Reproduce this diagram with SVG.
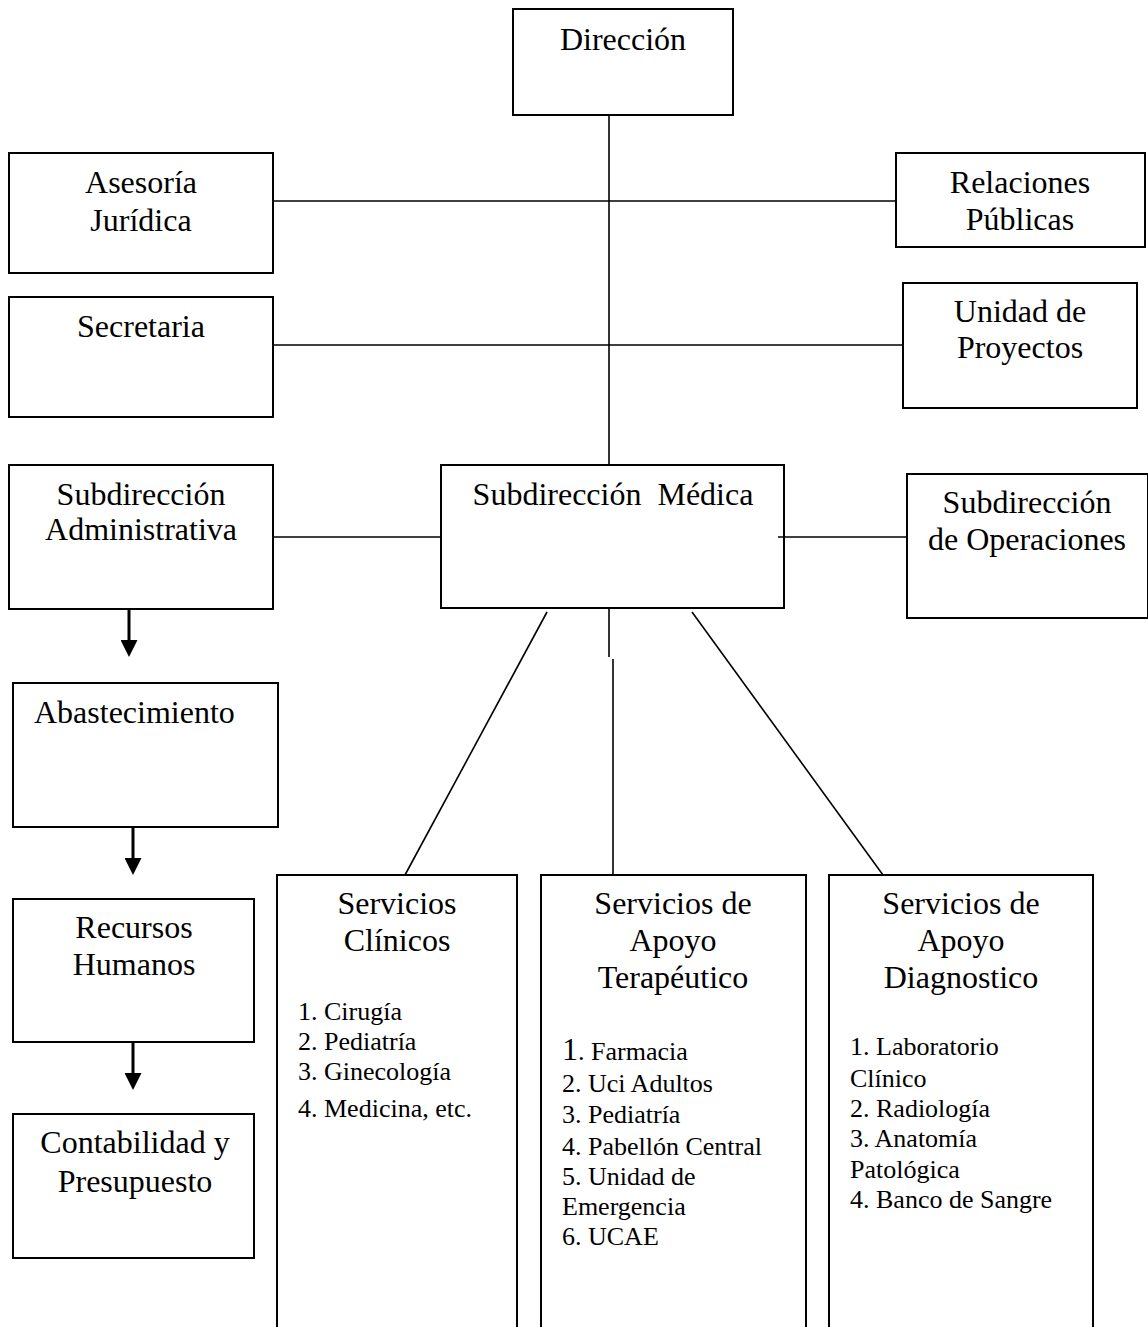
<svg xmlns="http://www.w3.org/2000/svg" width="1148" height="1327" viewBox="0 0 1148 1327">
<style>
  .box { fill: #fff; stroke: #000; stroke-width: 2; }
  .t { font-family: "Liberation Serif", "Times New Roman", serif; font-size: 32px; fill: #000; text-anchor: middle; }
  .l { font-family: "Liberation Serif", "Times New Roman", serif; font-size: 26px; fill: #000; }
  .c { stroke: #000; stroke-width: 1.6; fill: none; }
  .a { stroke: #000; stroke-width: 3; fill: none; }
</style>
<defs>
  <marker id="ah" markerUnits="userSpaceOnUse" markerWidth="17" markerHeight="17" refX="0" refY="8.5" orient="auto">
    <path d="M0,0 L17,8.5 L0,17 z" fill="#000"/>
  </marker>
</defs>
<rect width="1148" height="1327" fill="#fff"/>
<g id="direccion">
  <rect class="box" x="513" y="9" width="220" height="106"/>
  <text class="t" x="623" y="50">Dirección</text>
</g>
<g id="asesoria">
  <rect class="box" x="9" y="153" width="264" height="120"/>
  <text class="t" x="141" y="193">Asesoría</text>
  <text class="t" x="141" y="231">Jurídica</text>
</g>
<g id="relaciones">
  <rect class="box" x="896" y="153" width="249" height="94"/>
  <text class="t" x="1020" y="193">Relaciones</text>
  <text class="t" x="1020" y="230">Públicas</text>
</g>
<g id="secretaria">
  <rect class="box" x="9" y="297" width="264" height="120"/>
  <text class="t" x="141" y="337">Secretaria</text>
</g>
<g id="proyectos">
  <rect class="box" x="903" y="283" width="234" height="125"/>
  <text class="t" x="1020" y="322">Unidad de</text>
  <text class="t" x="1020" y="358">Proyectos</text>
</g>
<g id="subadmin">
  <rect class="box" x="9" y="465" width="264" height="144"/>
  <text class="t" x="141" y="505">Subdirección</text>
  <text class="t" x="141" y="540">Administrativa</text>
</g>
<g id="submedica">
  <rect class="box" x="441" y="465" width="343" height="143"/>
  <text class="t" x="613" y="505" xml:space="preserve">Subdirección  Médica</text>
</g>
<g id="suboper">
  <rect class="box" x="907" y="474" width="241" height="144"/>
  <text class="t" x="1027" y="513">Subdirección</text>
  <text class="t" x="1027" y="550">de Operaciones</text>
</g>
<g id="abastecimiento">
  <rect class="box" x="13" y="683" width="265" height="144"/>
  <text class="t" x="34" y="723" style="text-anchor:start">Abastecimiento</text>
</g>
<g id="recursos">
  <rect class="box" x="13" y="899" width="241" height="143"/>
  <text class="t" x="134" y="938">Recursos</text>
  <text class="t" x="134" y="975">Humanos</text>
</g>
<g id="contabilidad">
  <rect class="box" x="13" y="1114" width="241" height="144"/>
  <text class="t" x="135" y="1153">Contabilidad y</text>
  <text class="t" x="135" y="1192">Presupuesto</text>
</g>
<g id="clinicos">
  <rect class="box" x="277" y="875" width="240" height="470"/>
  <text class="t" x="397" y="914">Servicios</text>
  <text class="t" x="397" y="951">Clínicos</text>
  <text class="l" x="298" y="1020">1. Cirugía</text>
  <text class="l" x="298" y="1050">2. Pediatría</text>
  <text class="l" x="298" y="1080">3. Ginecología</text>
  <text class="l" x="298" y="1117">4. Medicina, etc.</text>
</g>
<g id="terapeutico">
  <rect class="box" x="541" y="875" width="265" height="470"/>
  <text class="t" x="673" y="914">Servicios de</text>
  <text class="t" x="673" y="951">Apoyo</text>
  <text class="t" x="673" y="988">Terapéutico</text>
  <text class="l" x="562" y="1060"><tspan style="font-size:32px">1</tspan>. Farmacia</text>
  <text class="l" x="562" y="1092">2. Uci Adultos</text>
  <text class="l" x="562" y="1123">3. Pediatría</text>
  <text class="l" x="562" y="1155">4. Pabellón Central</text>
  <text class="l" x="562" y="1185">5. Unidad de</text>
  <text class="l" x="562" y="1215">Emergencia</text>
  <text class="l" x="562" y="1245">6. UCAE</text>
</g>
<g id="diagnostico">
  <rect class="box" x="829" y="875" width="264" height="470"/>
  <text class="t" x="961" y="914">Servicios de</text>
  <text class="t" x="961" y="951">Apoyo</text>
  <text class="t" x="961" y="988">Diagnostico</text>
  <text class="l" x="850" y="1055">1. Laboratorio</text>
  <text class="l" x="850" y="1087">Clínico</text>
  <text class="l" x="850" y="1117">2. Radiología</text>
  <text class="l" x="850" y="1147">3. Anatomía</text>
  <text class="l" x="850" y="1178">Patológica</text>
  <text class="l" x="850" y="1208">4. Banco de Sangre</text>
</g>
<g id="connectors">
  <line class="c" x1="609" y1="115" x2="609" y2="465"/>
  <line class="c" x1="273" y1="201" x2="896" y2="201"/>
  <line class="c" x1="273" y1="345" x2="903" y2="345"/>
  <line class="c" x1="273" y1="537" x2="441" y2="537"/>
  <line class="c" x1="778" y1="537" x2="907" y2="537"/>
  <line class="c" x1="547" y1="612" x2="405" y2="875"/>
  <line class="c" x1="609" y1="608" x2="609" y2="657"/>
  <line class="c" x1="613" y1="659" x2="613" y2="875"/>
  <line class="c" x1="692" y1="612" x2="883" y2="875"/>
  <line class="a" x1="129" y1="608" x2="129" y2="640" marker-end="url(#ah)"/>
  <line class="a" x1="133" y1="827" x2="133" y2="858" marker-end="url(#ah)"/>
  <line class="a" x1="133" y1="1042" x2="133" y2="1073" marker-end="url(#ah)"/>
</g>
</svg>
